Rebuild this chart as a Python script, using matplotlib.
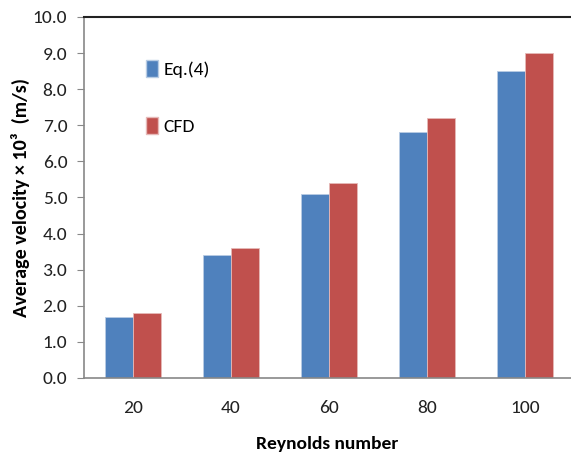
import matplotlib.pyplot as plt
from matplotlib.patches import Patch
import numpy as np

plt.rcParams['font.family'] = ['Carlito', 'DejaVu Sans']

reynolds = ['20', '40', '60', '80', '100']
eq4 = [1.7, 3.4, 5.1, 6.8, 8.5]
cfd = [1.8, 3.6, 5.4, 7.2, 9.0]

blue = '#4F81BD'
red = '#C0504D'

fig = plt.figure(figsize=(5.71, 4.57), dpi=100)
ax = fig.add_axes([0.147, 0.173, 0.853, 0.790])

x = np.arange(len(reynolds))
w = 0.286
ax.bar(x - w / 2, eq4, w, color=blue, edgecolor='#b8cce4', linewidth=0.6)
ax.bar(x + w / 2, cfd, w, color=red, edgecolor='#e6b9b8', linewidth=0.6)

ax.set_xlim(-0.5, 4.47)
ax.set_ylim(0, 10)
ax.set_yticks(np.arange(0, 10.1, 1.0))
ax.set_yticklabels([f'{v:.1f}' for v in np.arange(0, 10.1, 1.0)], fontsize=14, color='#222222')
ax.set_xticks(x)
ax.set_xticklabels(reynolds, fontsize=14, color='#222222')
ax.tick_params(axis='x', length=0, pad=16)
ax.tick_params(axis='y', length=5, color='#888888', pad=7)

for s in ['left', 'bottom']:
    ax.spines[s].set_color('#888888')
    ax.spines[s].set_linewidth(1.2)
ax.spines['top'].set_color('#222222')
ax.spines['top'].set_linewidth(1.5)
ax.spines['right'].set_visible(False)

ax.set_xlabel('Reynolds number', fontsize=14, fontweight='bold', labelpad=14)
ax.set_ylabel('Average velocity × 10³  (m/s)', fontsize=14.5, fontweight='bold')
ax.yaxis.set_label_coords(-0.11, 0.5)

handles = [Patch(facecolor=blue, edgecolor='#b8cce4'), Patch(facecolor=red, edgecolor='#e6b9b8')]
ax.legend(handles, ['Eq.(4)', 'CFD'], loc='upper left', bbox_to_anchor=(0.092, 0.93),
          frameon=False, fontsize=14, handlelength=0.6, handleheight=1.0,
          handletextpad=0.3, labelspacing=2.0)

fig.savefig('out.png', dpi=100)
